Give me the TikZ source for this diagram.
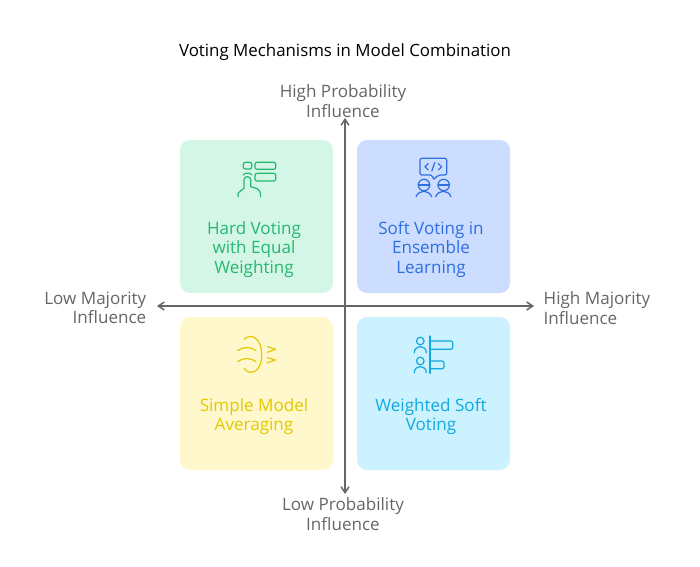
\documentclass[tikz,border=0pt]{standalone}
\usepackage{fontspec}
\setmainfont{Open Sans}
\usetikzlibrary{arrows.meta}
\definecolor{greenfill}{HTML}{D4F6E6}
\definecolor{greenink}{HTML}{25B871}
\definecolor{bluefill}{HTML}{CCDDFF}
\definecolor{blueink}{HTML}{2F6FE0}
\definecolor{yellowfill}{HTML}{FFF8CC}
\definecolor{yellowink}{HTML}{E3C800}
\definecolor{cyanfill}{HTML}{CCF2FF}
\definecolor{cyanink}{HTML}{12A8E0}
\definecolor{axisgray}{HTML}{666666}
\tikzset{
    card/.style={rounded corners=7.5pt, minimum width=114.75pt, minimum height=114.75pt, inner sep=0pt},
    cardtext/.style={align=center, font=\fontsize{12.8}{14.7}\selectfont},
    axislabel/.style={align=center, text=axisgray, font=\fontsize{12.8}{14.5}\selectfont},
    axis/.style={draw=axisgray, line width=1.1pt, {Straight Barb[length=4.5pt,width=6pt]}-{Straight Barb[length=4.5pt,width=6pt]}},
    icon/.style={line width=0.9pt, line cap=round, line join=round}
}
\begin{document}
\begin{tikzpicture}[x=0.75pt, y=-0.75pt]
    \useasboundingbox (0,0) rectangle (700,567);

    \node (title) at (345,52.5) {\fontsize{12.65}{14}\selectfont Voting Mechanisms in Model Combination};

    \node[card, fill=greenfill] (hard) at (256.5,216.5) {};
    \node[card, fill=bluefill] (soft) at (433.5,216.5) {};
    \node[card, fill=yellowfill] (simple) at (256.5,393.5) {};
    \node[card, fill=cyanfill] (weighted) at (433.5,393.5) {};

    \node[cardtext, text=greenink] (hardtext) at (254,249.5) {Hard Voting\\with Equal\\Weighting};
    \node[cardtext, text=blueink] (softtext) at (431,249.5) {Soft Voting in\\Ensemble\\Learning};
    \node[cardtext, text=yellowink] (simpletext) at (254,416.5) {Simple Model\\Averaging};
    \node[cardtext, text=cyanink] (weightedtext) at (431,416.5) {Weighted Soft\\Voting};

    \coordinate (top) at (345,118);
    \coordinate (bottom) at (345,494);
    \coordinate (left) at (157,306);
    \coordinate (right) at (534,306);
    \draw[axis] (top) -- (bottom);
    \draw[axis] (left) -- (right);

    \node[axislabel] (highprob) at (343,101) {High Probability\\Influence};
    \node[axislabel] (lowprob) at (343,514) {Low Probability\\Influence};
    \node[axislabel, align=right, anchor=east] (lowmaj) at (151,308) {Low Majority\\Influence};
    \node[axislabel, align=left, anchor=west] (highmaj) at (539,308) {High Majority\\Influence};

    % hard voting icon
    \begin{scope}[icon, draw=greenink]
        \draw[rounded corners=1.5pt] (243.3,162.3) rectangle (251.7,169);
        \draw[rounded corners=1.5pt] (255,162.3) rectangle (275.7,169.3);
        \draw[rounded corners=1.5pt] (255,173.3) rectangle (275.7,181);
        \draw (243.3,175) .. controls (244,172.5) and (251,172.5) .. (251.7,175);
        \draw (238.3,196.7) .. controls (236.5,193) and (240,191.5) .. (244,188.3) -- (244,180) .. controls (244,175.5) and (250.7,175.5) .. (250.7,180) -- (250.7,186.7) -- (257,188.5) .. controls (259.5,189.5) and (260.5,192) .. (260.7,196.7);
    \end{scope}

    % soft voting icon
    \begin{scope}[icon, draw=blueink]
        \draw[rounded corners=1.5pt] (432.7,175) -- (420,175) -- (420,158.3) -- (446.7,158.3) -- (446.7,175) -- (438.3,175) -- (433.3,180) -- cycle;
        \draw (428.3,163.5) -- (425,166.8) -- (428.3,170);
        \draw (438.3,163.5) -- (441.7,166.8) -- (438.3,170);
        \draw (434.8,162.5) -- (431.8,171);
        \draw (424,185) circle (5.7);
        \draw (418.3,185) -- (429.7,185);
        \draw (443.7,185) circle (5.7);
        \draw (438,185) -- (449.4,185);
        \draw (416,196.7) .. controls (419,189.5) and (428.7,189.5) .. (431.7,196.7);
        \draw (435.7,196.7) .. controls (438.7,189.5) and (448,189.5) .. (451,196.7);
    \end{scope}

    % simple averaging icon
    \begin{scope}[icon, draw=yellowink]
        \draw (244,339.3) .. controls (250,333) and (261.7,337) .. (261.7,355) .. controls (261.7,373) and (249,376) .. (244,368.3);
        \draw (237.7,350.7) .. controls (243,346.5) and (251,346.5) .. (256,350.7);
        \draw (237.7,361.7) .. controls (243,357.5) and (251,357.5) .. (256,361.7);
        \draw (267.3,346.7) -- (275.7,349.3) -- (267.3,352.3);
        \draw (267.3,357.7) -- (275.7,360) -- (267.3,362.7);
    \end{scope}

    % weighted soft voting icon
    \begin{scope}[icon, draw=cyanink]
        \draw (430,336) -- (430,373.3);
        \draw[rounded corners=1.5pt] (430,341) -- (452.7,341) -- (452.7,349.3) -- (430,349.3);
        \draw[rounded corners=1.5pt] (430,361) -- (444,361) -- (444,368.7) -- (430,368.7);
        \draw (420.3,341) circle (3.8);
        \draw (420.3,361) circle (3.8);
        \draw (414.3,352.7) .. controls (414.3,344.5) and (426.3,344.5) .. (426.3,352.7);
        \draw (414.3,372.7) .. controls (414.3,364.5) and (426.3,364.5) .. (426.3,372.7);
    \end{scope}
\end{tikzpicture}
\end{document}
